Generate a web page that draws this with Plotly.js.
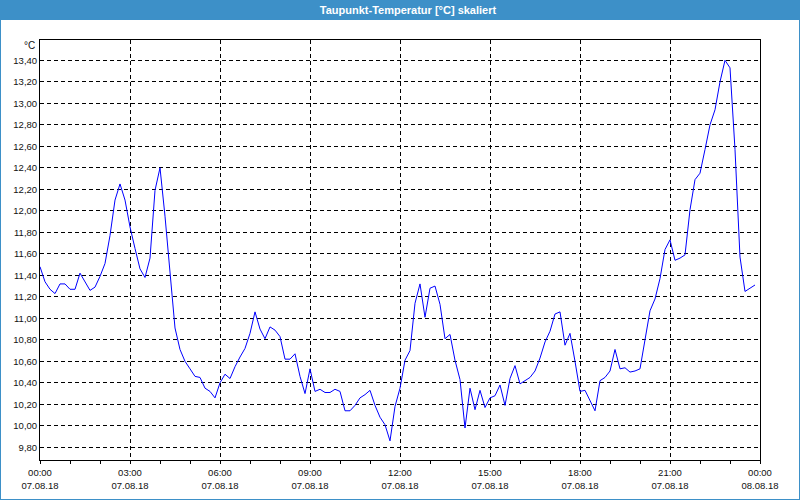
<!DOCTYPE html>
<html>
<head>
<meta charset="utf-8">
<script src="https://cdn.plot.ly/plotly-3.0.1.min.js"></script>
<style>
html,body{margin:0;padding:0;background:#fff;}
#chart{width:800px;height:500px;}
</style>
</head>
<body>
<div id="chart"></div>
<script>
// ---- data ----
const chartTitle = 'Taupunkt-Temperatur [°C] skaliert';
const unitLabel = '°C';
const day = '2018-08-07';
const nextDay = '2018-08-08';
const stepMinutes = 10;
// dew point temperature, one reading every 10 minutes from 00:00 to 23:50
const dewPoint = [
  11.48, 11.34, 11.27, 11.23, 11.32, 11.32, 11.27, 11.27, 11.42, 11.34, 11.26, 11.29,
  11.39, 11.51, 11.77, 12.10, 12.25, 12.10, 11.85, 11.65, 11.46, 11.38, 11.56, 12.19,
  12.40, 11.95, 11.39, 10.91, 10.71, 10.60, 10.53, 10.46, 10.45, 10.35, 10.32, 10.26,
  10.40, 10.48, 10.44, 10.55, 10.64, 10.72, 10.86, 11.06, 10.90, 10.81, 10.92, 10.89,
  10.83, 10.62, 10.62, 10.67, 10.46, 10.30, 10.53, 10.32, 10.34, 10.31, 10.31, 10.34,
  10.32, 10.14, 10.14, 10.19, 10.26, 10.29, 10.33, 10.19, 10.08, 10.01, 9.86, 10.18,
  10.35, 10.61, 10.70, 11.14, 11.32, 11.01, 11.28, 11.30, 11.13, 10.81, 10.85, 10.61,
  10.43, 9.98, 10.35, 10.15, 10.33, 10.17, 10.26, 10.28, 10.38, 10.19, 10.44, 10.56,
  10.39, 10.42, 10.45, 10.51, 10.63, 10.78, 10.88, 11.04, 11.06, 10.75, 10.86, 10.60,
  10.32, 10.33, 10.24, 10.14, 10.42, 10.45, 10.51, 10.71, 10.53, 10.54, 10.50, 10.51,
  10.53, 10.80, 11.07, 11.18, 11.37, 11.64, 11.73, 11.54, 11.56, 11.59, 12.01, 12.29,
  12.35, 12.57, 12.80, 12.94, 13.20, 13.40, 13.33, 12.57, 11.57, 11.25, 11.28, 11.31
];
const yTickStart = 9.8;
const yTickStep = 0.2;
const yRange = [9.682, 13.589];

// ---- build ----
function pad(n){ return (n < 10 ? '0' : '') + n; }
const times = dewPoint.map((v, i) => {
  const mins = i * stepMinutes;
  return day + ' ' + pad(Math.floor(mins / 60)) + ':' + pad(mins % 60);
});
const xRange = [day + ' 00:00', nextDay + ' 00:00'];

const blue = '#3d90c8';
const font = 'Liberation Sans, Arial, sans-serif';
const W = 720, H = 420, L = 40, T = 40; // plot box size in px
const px = x => (x - L) / W;
const py = y => (T + H - y) / H;

const trace = {
  type: 'scatter', mode: 'lines',
  x: times, y: dewPoint,
  line: {color: '#0000ff', width: 1},
  hoverinfo: 'skip'
};

const layout = {
  width: 800, height: 500,
  margin: {l: 40, r: 40, t: 40, b: 40},
  paper_bgcolor: '#ffffff', plot_bgcolor: '#ffffff',
  separators: ',.',
  showlegend: false,
  font: {family: font, size: 9.5, color: '#111'},
  title: {
    text: '<b>' + chartTitle + '</b>',
    x: 0.51, xanchor: 'center', xref: 'container',
    y: 1 - 10 / 500, yanchor: 'middle', yref: 'container',
    font: {family: font, size: 11, color: '#ffffff'}
  },
  xaxis: {
    type: 'date', range: xRange,
    dtick: 3 * 3600000, tick0: day + ' 00:00',
    tickformat: '%H:%M',
    ticks: 'outside', ticklen: 3, tickcolor: '#000',
    ticklabelstandoff: 1,
    minor: {dtick: 3600000, ticks: 'outside', ticklen: 3, tickcolor: '#000', showgrid: false},
    showgrid: true, gridcolor: '#000', gridwidth: 1, griddash: '4px,3px',
    showline: true, linecolor: '#000', linewidth: 1, mirror: true,
    zeroline: false, fixedrange: true
  },
  xaxis2: {
    type: 'date', range: xRange, overlaying: 'x', anchor: 'y', side: 'bottom',
    dtick: 3 * 3600000, tick0: day + ' 00:00',
    tickformat: '%d.%m.%y',
    ticks: '', ticklabelstandoff: 18,
    showgrid: false, showline: false, zeroline: false, fixedrange: true
  },
  yaxis: {
    range: yRange, tick0: yTickStart, dtick: yTickStep,
    tickformat: '.2f', ticks: '',
    showgrid: true, gridcolor: '#000', gridwidth: 1, griddash: '4px,3px',
    showline: true, linecolor: '#000', linewidth: 1, mirror: true,
    zeroline: false, fixedrange: true
  },
  shapes: [
    {type: 'rect', xref: 'paper', yref: 'paper', layer: 'below',
     x0: px(0), x1: px(800), y0: py(20), y1: py(0),
     fillcolor: blue, line: {width: 0}},
    {type: 'rect', xref: 'paper', yref: 'paper', layer: 'above',
     x0: px(0), x1: px(800), y0: py(500), y1: py(0),
     fillcolor: 'rgba(0,0,0,0)', line: {color: blue, width: 2}}
  ],
  annotations: [
    {text: unitLabel, xref: 'paper', yref: 'paper', x: 0, y: 1,
     xanchor: 'right', yanchor: 'middle', xshift: -3, yshift: -5,
     showarrow: false, font: {family: font, size: 10, color: '#111'}}
  ]
};

const dateAxisTrace = {type: 'scatter', mode: 'lines', x: xRange, y: [null, null],
  xaxis: 'x2', yaxis: 'y', hoverinfo: 'skip', showlegend: false};

Plotly.newPlot('chart', [trace, dateAxisTrace], layout, {staticPlot: true, displayModeBar: false});
</script>
</body>
</html>
